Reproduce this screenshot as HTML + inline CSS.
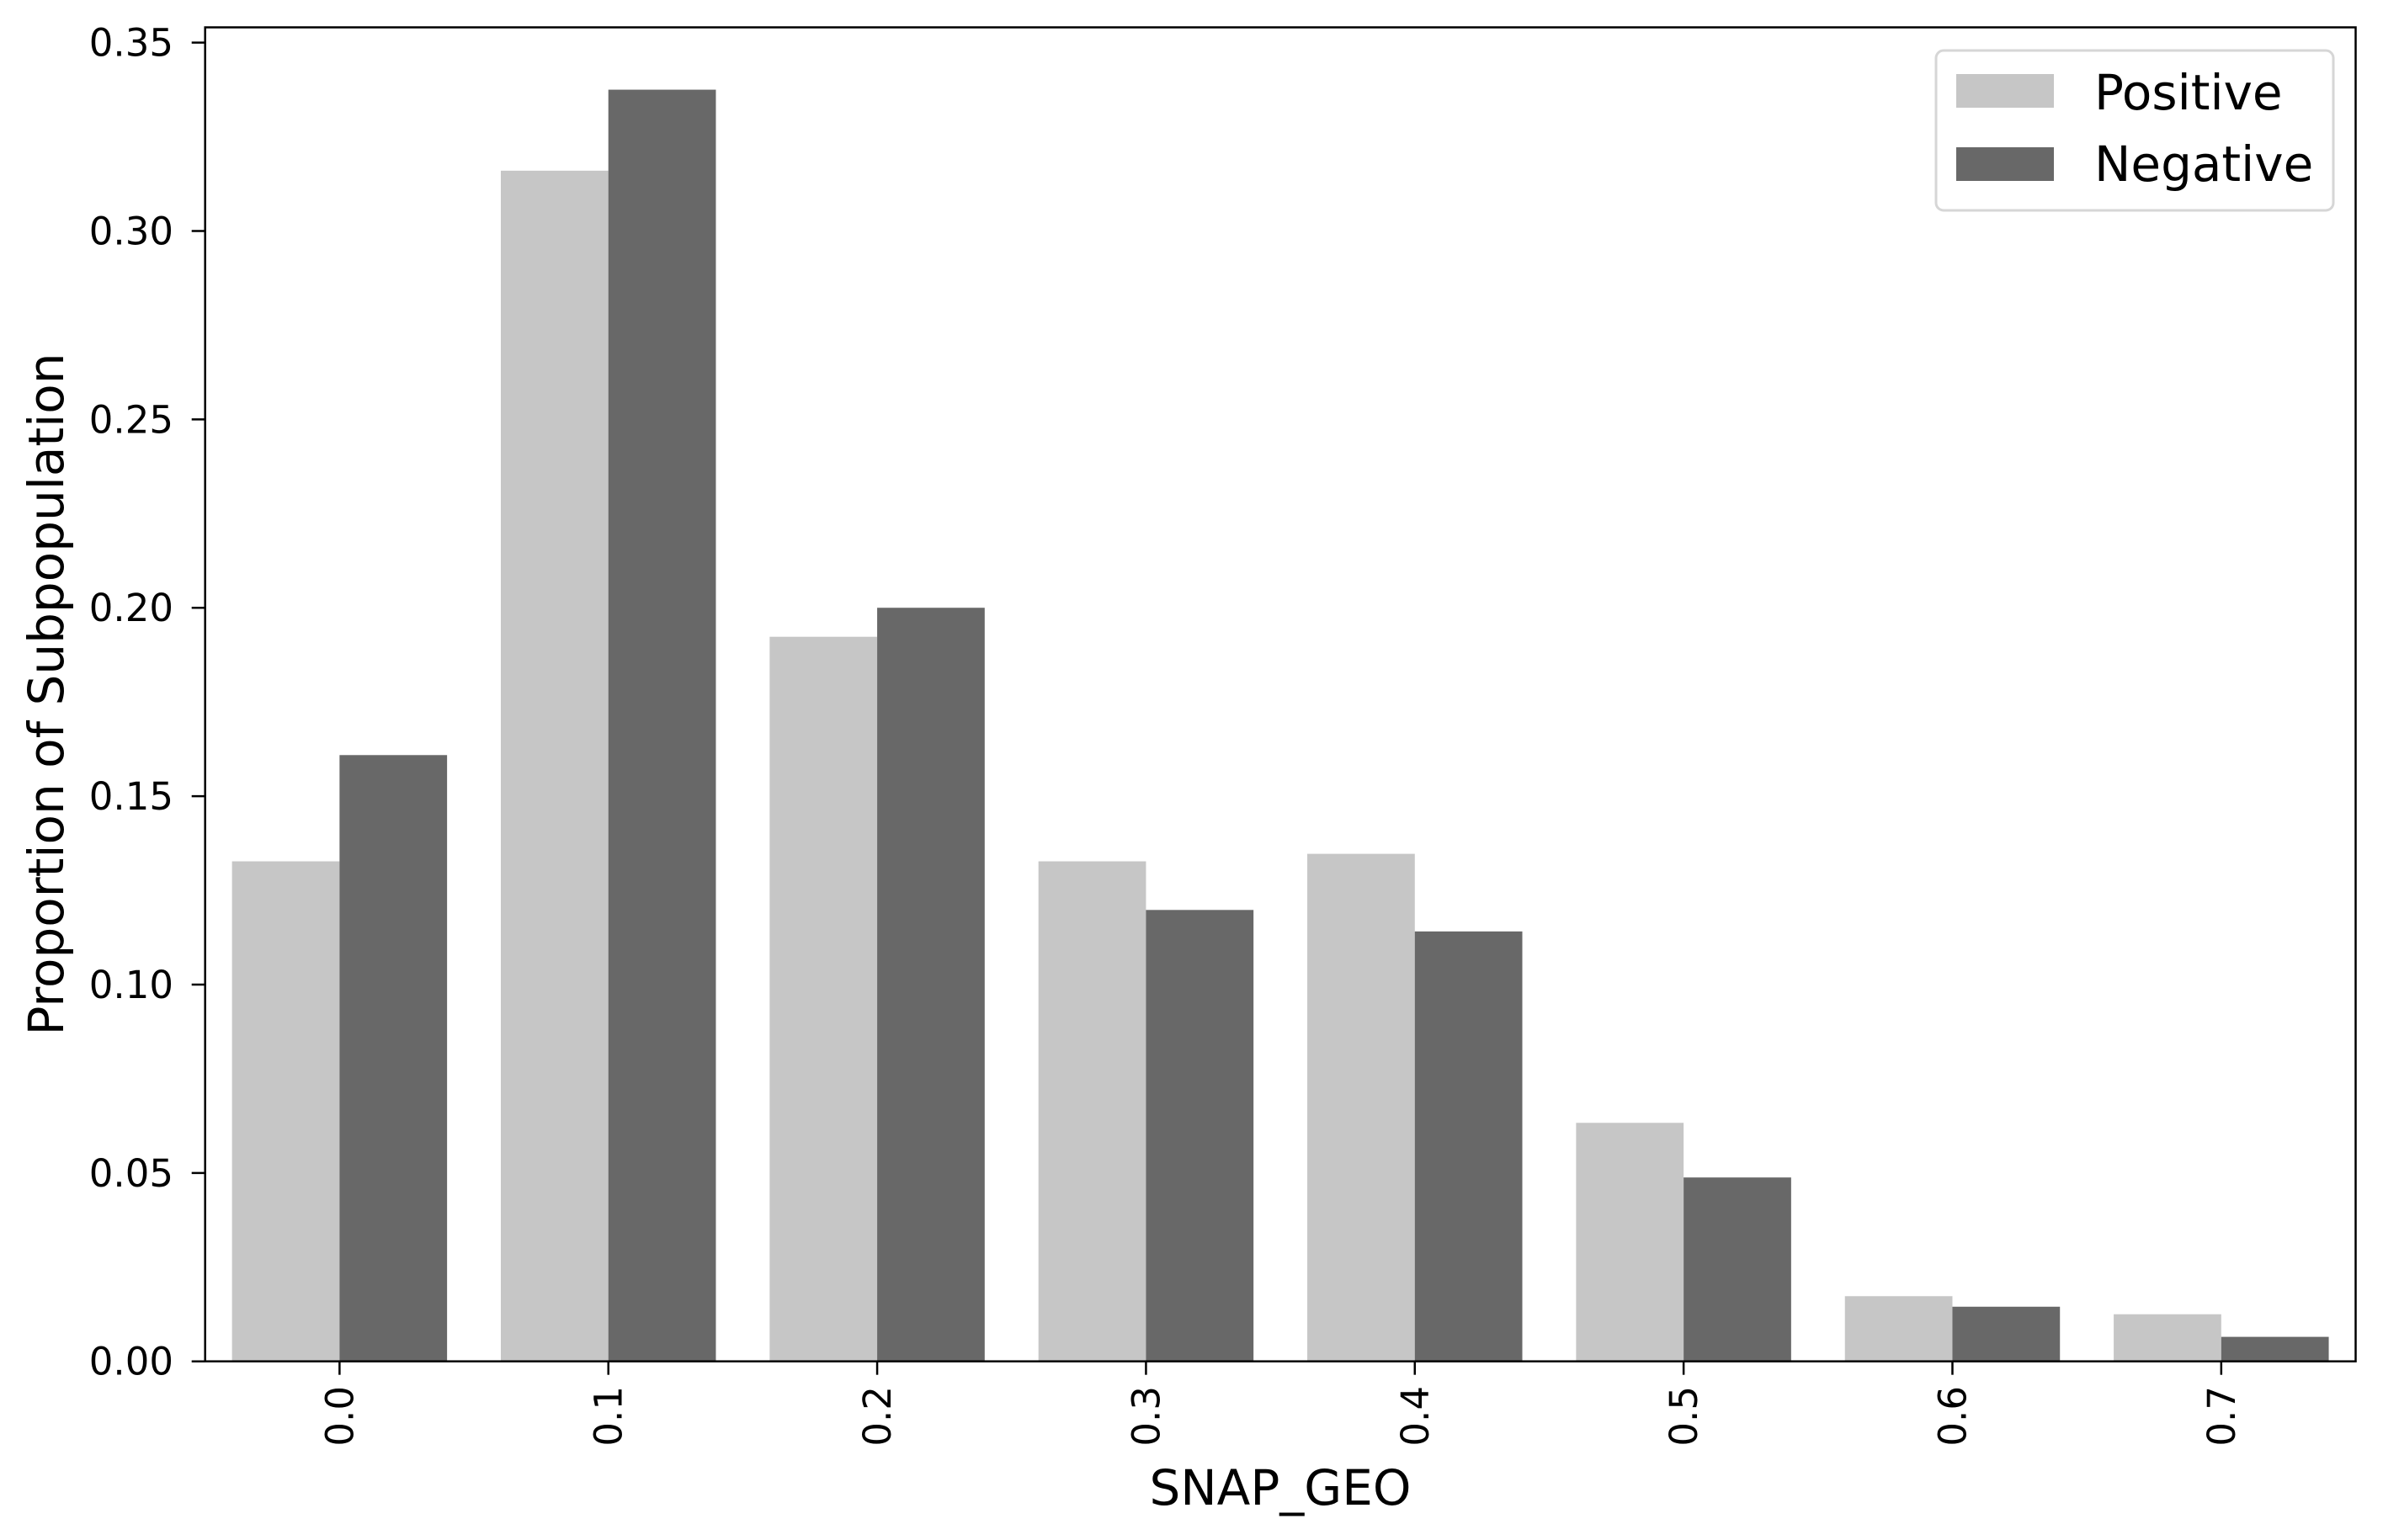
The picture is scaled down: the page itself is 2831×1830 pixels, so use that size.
<!DOCTYPE html>
<html><head><meta charset="utf-8"><style>
html,body{margin:0;padding:0;background:#fff;}
svg{display:block;font-family:"DejaVu Sans","Liberation Sans",sans-serif;}
</style></head><body>
<svg id="chart" width="2831" height="1830" viewBox="0 0 2831 1830" xmlns="http://www.w3.org/2000/svg">
<g id="bars"></g>
<g id="axes"></g>
<g id="legend">
  <rect x="2300" y="60" width="472" height="190" rx="9" fill="#fff" fill-opacity="0.8" stroke="#d6d6d6" stroke-width="3"/>
  <rect x="2324" y="88" width="116" height="40" fill="#c6c6c6"/>
  <text x="2488" y="130" font-size="58" fill="#000">Positive</text>
  <rect x="2324" y="175" width="116" height="40" fill="#686868"/>
  <text x="2488" y="215" font-size="58" fill="#000">Negative</text>
</g>
<text x="1521" y="1788" font-size="58" text-anchor="middle" fill="#000">SNAP_GEO</text>
<text transform="translate(75,825) rotate(-90)" font-size="58" text-anchor="middle" fill="#000">Proportion of Subpopulation</text>
</svg>
<script>
const categories = ["0.0","0.1","0.2","0.3","0.4","0.5","0.6","0.7"];
const positiveValues = [0.1327,0.316,0.1923,0.1327,0.1347,0.0633,0.0173,0.0125];
const negativeValues = [0.1609,0.3375,0.2,0.1198,0.1141,0.0488,0.0145,0.0065];
const yTickLabels = ["0.00","0.05","0.10","0.15","0.20","0.25","0.30","0.35"];
const yTickValues = [0,0.05,0.1,0.15,0.2,0.25,0.3,0.35];

const NS = "http://www.w3.org/2000/svg";
const L = 243.7, R = 2798.5, T = 32.5, B = 1617.7;
const yMax = 0.35, y0px = 1617.7, y35px = 50.6;
function yScale(v){ return y0px - v/yMax*(y0px - y35px); }
const band = (R - L)/categories.length;
function xScale(i){ return L + band*(i + 0.5); }
const bw = band*0.4;

function mk(tag, attrs, parent){
  const e = document.createElementNS(NS, tag);
  for (const k in attrs) e.setAttribute(k, attrs[k]);
  parent.appendChild(e);
  return e;
}
const bars = document.getElementById('bars');
const axes = document.getElementById('axes');

categories.forEach((c, i) => {
  const cx = xScale(i);
  const yp = yScale(positiveValues[i]);
  const r1 = mk('rect', {x: cx - bw, y: yp, width: bw, height: B - yp, fill: '#c6c6c6'}, bars);
  
  
  const yn = yScale(negativeValues[i]);
  const r2 = mk('rect', {x: cx, y: yn, width: bw, height: B - yn, fill: '#686868'}, bars);
  
  
  const tk = mk('line', {x1: cx, x2: cx, y1: B, y2: B + 16, stroke: '#000', 'stroke-width': 2.5}, axes);
  
  
  const tl = mk('text', {transform: 'translate(' + (cx + 16) + ',1647) rotate(-90)', 'font-size': 45, 'text-anchor': 'end', fill: '#000'}, axes);
  tl.textContent = c;
  
  
});

yTickValues.forEach((v, i) => {
  const y = yScale(v);
  const tk = mk('line', {x1: L - 16, x2: L, y1: y, y2: y, stroke: '#000', 'stroke-width': 2.5}, axes);
  
  
  const tl = mk('text', {x: 206, y: y + 16, 'font-size': 45, 'text-anchor': 'end', fill: '#000'}, axes);
  tl.textContent = yTickLabels[i];
  
  
});

const frame = mk('rect', {x: L, y: T, width: R - L, height: B - T, fill: 'none', stroke: '#000', 'stroke-width': 2.5}, axes);


</script>
</body></html>
